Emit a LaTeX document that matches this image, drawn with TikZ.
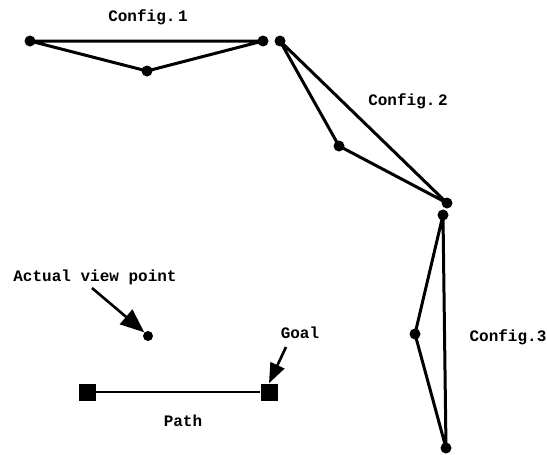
\documentclass[tikz,border=0pt]{standalone}
\usepackage{fontspec}
\setmonofont{Liberation Mono}
\usetikzlibrary{arrows.meta}
\begin{document}
\begin{tikzpicture}[x=1pt,y=-1pt,
  joint/.style={circle,fill=black,inner sep=0pt,minimum size=11pt},
  link/.style={line width=3pt,line join=round},
  sq/.style={rectangle,fill=black,inner sep=0pt,minimum size=17pt},
  lbl/.style={font=\ttfamily\bfseries\fontsize{16}{18}\selectfont,inner sep=0pt},
  pointer/.style={line width=2.6pt,-{Triangle[length=24pt,width=19pt]}}]
\useasboundingbox (0,0) rectangle (547,455);
% Config 1
\node[joint] (a) at (30,41) {};
\node[joint] (b) at (263,41) {};
\node[joint] (c) at (147,71) {};
\draw[link] (a.center) -- (b.center) -- (c.center) -- cycle;
\node[lbl] (l1) at (148,17) {Config.\,1};
% Config 2
\node[joint] (d) at (280,41) {};
\node[joint] (e) at (339,146) {};
\node[joint] (f) at (447,203) {};
\draw[link] (d.center) -- (e.center) -- (f.center) -- cycle;
\node[lbl] (l2) at (408,101) {Config.\,2};
% Config 3
\node[joint] (g) at (443,215) {};
\node[joint] (h) at (415,334) {};
\node[joint] (i) at (446,448) {};
\draw[link] (g.center) -- (h.center) -- (i.center) -- cycle;
\node[lbl] (l3) at (508,337) {Config.3};
% view point
\node[lbl] (vp) at (95,277) {Actual view point};
\node[circle,fill=black,inner sep=0pt,minimum size=10pt] (dot) at (148,336) {};
\coordinate (vps) at (92,288);
\draw[pointer] (vps) -- (dot.north west);
% path
\node[sq] (s1) at (87,392) {};
\node[sq] (s2) at (269,392) {};
\draw[line width=2.2pt] (s1) -- (s2);
\node[lbl] (pl) at (183,421) {Path};
\node[lbl] (gl) at (300,333) {Goal};
\coordinate (gs) at (286,347);
\draw[pointer,-{Triangle[length=20pt,width=15pt]}] (gs) -- (s2.north);
\end{tikzpicture}
\end{document}
